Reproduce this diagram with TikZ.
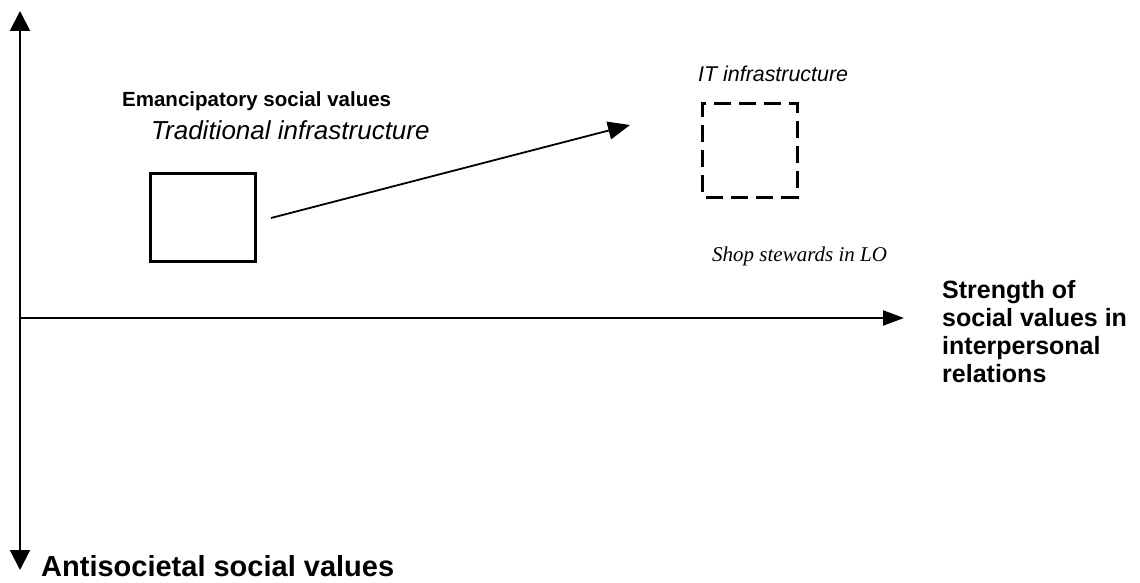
\documentclass[tikz,border=0pt]{standalone}
\usepackage{fontspec}
\setmainfont{Liberation Sans}
\newfontfamily\timesfont{Liberation Serif}
\usetikzlibrary{arrows.meta}
\begin{document}
\begin{tikzpicture}[x=1pt,y=-1pt,
  axis/.style={line width=2pt,-{Triangle[length=20pt,width=20pt]}},
  haxis/.style={line width=2pt,-{Triangle[length=21pt,width=15pt]}},
  boldlbl/.style={font=\fontsize{20.5}{28}\selectfont\bfseries,anchor=west,inner sep=0pt},
  itlbl/.style={font=\fontsize{21.4}{26}\selectfont\itshape,anchor=west,inner sep=0pt},
  solidbox/.style={draw,line width=3pt,minimum width=105pt,minimum height=88pt,inner sep=0pt},
  dashbox/.style={draw,line width=3pt,dash pattern=on 17pt off 8pt,dash phase=-4pt,minimum width=95pt,minimum height=93pt,inner sep=0pt},
  conn/.style={line width=1.8pt,-{Triangle[length=22pt,width=18pt]}}]
\useasboundingbox (0,0) rectangle (1140,583);
\coordinate (o) at (20,318);
\coordinate (top) at (20,11);
\coordinate (bot) at (20,570);
\coordinate (right) at (904,318);
\draw[axis] (o) -- (top);
\draw[axis] (o) -- (bot);
\draw[haxis] (o) -- (right);
\node[solidbox] (trad) at (203,217) {};
\node[dashbox] (it) at (749.5,150.5) {};
\coordinate (cs) at (271,218);
\coordinate (ce) at (630,125);
\draw[conn] (cs) -- (ce);
\node[boldlbl] (em) at (122,101) {Emancipatory social values};
\node[boldlbl,font=\fontsize{29}{34}\selectfont\bfseries] (anti) at (41,566) {Antisocietal social values};
\node[boldlbl,font=\fontsize{25}{28}\selectfont\bfseries,align=left] (str) at (942,332) {Strength of\\social values in\\interpersonal\\relations};
\node[itlbl,font=\fontsize{26}{30}\selectfont\itshape] (tradl) at (151,130) {Traditional infrastructure};
\node[itlbl] (itl) at (698,74) {IT infrastructure};
\node[font=\fontsize{21}{26}\selectfont\timesfont\itshape,anchor=west,inner sep=0pt] (shop) at (712,256) {Shop stewards in LO};
\end{tikzpicture}
\end{document}
